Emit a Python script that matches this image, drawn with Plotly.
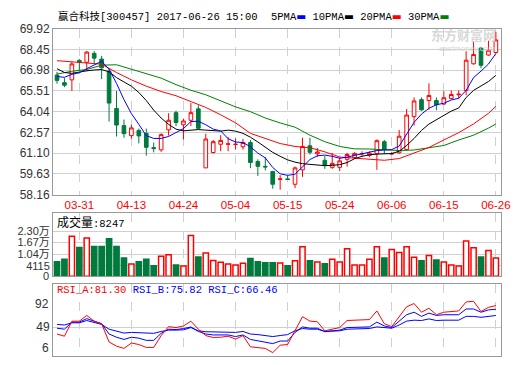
import plotly.graph_objects as go

# ---------------- data ----------------
dates = ["03-28","03-29","03-30","03-31","04-05","04-06","04-07","04-10","04-11","04-12",
         "04-13","04-14","04-17","04-18","04-19","04-20","04-21","04-24","04-25","04-26",
         "04-27","04-28","05-02","05-03","05-04","05-05","05-08","05-09","05-10","05-11",
         "05-12","05-15","05-16","05-17","05-18","05-19","05-22","05-23","05-24","05-25",
         "05-26","05-31","06-01","06-02","06-05","06-06","06-07","06-08","06-09","06-12",
         "06-13","06-14","06-15","06-16","06-19","06-20","06-21","06-22","06-23","06-26"]

open_ = [66.64,66.10,66.30,67.68,67.55,68.18,67.77,66.91,64.27,63.05,
         62.34,62.71,62.50,61.49,61.33,62.75,63.97,63.11,63.43,64.24,
         60.05,61.14,61.73,61.73,61.71,61.55,61.85,60.50,60.16,59.80,
         59.23,59.27,58.89,59.91,61.62,61.05,60.59,60.09,60.09,60.66,
         60.78,61.03,60.94,61.05,61.91,61.03,61.12,61.35,63.69,64.89,
         64.83,64.83,64.58,64.98,65.24,65.55,67.44,68.56,68.06,68.24]
high = [66.87,66.42,67.59,67.77,68.34,68.34,68.00,67.09,65.51,63.48,
        63.11,62.84,62.84,61.85,62.50,63.93,64.11,63.54,64.65,64.49,
        62.48,62.03,62.37,62.25,62.14,62.10,62.03,60.66,60.82,59.80,
        59.53,59.50,60.14,62.19,62.19,61.46,60.89,61.12,60.78,61.12,
        61.15,61.23,61.23,62.07,62.03,61.19,62.75,64.23,65.05,65.05,
        66.05,65.05,65.49,65.55,65.55,68.33,69.01,68.63,69.08,69.72]
low = [66.03,65.78,65.51,66.98,66.91,67.43,66.35,63.34,62.28,62.19,
       62.12,61.78,60.92,61.15,61.19,62.34,63.02,62.07,63.02,62.80,
       60.05,61.07,61.23,61.23,61.35,61.35,60.03,59.48,59.87,58.57,
       58.50,59.23,58.62,59.41,61.00,60.82,59.98,59.98,59.82,60.14,
       60.70,60.89,60.82,59.91,61.05,60.96,61.05,61.35,63.05,64.10,
       64.19,64.14,64.53,64.92,64.96,65.21,67.37,67.12,68.01,68.17]
close = [66.26,65.92,67.43,67.55,68.27,67.84,67.16,64.65,63.09,62.48,
         62.89,62.32,61.51,61.42,62.41,63.43,63.27,63.38,63.97,62.86,
         62.10,61.91,62.00,61.75,61.73,61.85,60.43,60.16,60.12,58.89,
         59.27,59.23,60.05,61.57,61.16,61.18,60.21,60.37,60.55,61.00,
         61.08,61.07,61.10,61.98,61.35,61.07,62.30,63.80,64.80,64.17,
         65.19,64.53,65.03,65.26,65.28,67.69,68.10,67.33,68.40,69.13]

ma5 = [66.53,66.48,66.69,66.80,67.09,67.37,67.62,67.05,66.05,64.90,
       63.90,63.14,62.34,62.14,62.14,62.28,62.57,62.84,63.34,63.36,
       63.11,62.80,62.68,62.12,61.89,61.85,61.55,61.10,60.76,60.08,
       59.63,59.52,59.60,60.10,60.64,60.91,60.96,60.87,60.73,60.82,
       60.93,61.09,61.19,61.28,61.32,61.35,61.60,62.48,63.28,63.87,
       64.28,64.53,64.64,64.87,64.99,65.55,66.46,66.92,67.42,68.17]
ma10 = [67.09,66.82,66.76,66.87,66.94,67.00,67.03,66.87,66.46,66.15,
        65.85,65.40,64.83,64.15,63.59,63.14,62.80,62.68,62.75,62.77,
        62.73,62.68,62.66,62.73,62.66,62.50,62.23,61.89,61.49,61.15,
        60.87,60.62,60.46,60.35,60.30,60.25,60.21,60.23,60.28,60.43,
        60.70,60.87,60.98,61.03,61.05,61.07,61.23,61.64,62.14,62.71,
        63.16,63.46,63.73,64.08,64.30,65.05,65.55,65.85,66.18,66.62]
long_idx = [0,2,4,6,8,10,12,14,16,18,20,22,24,26,28,30,32,34,36,38,
            40,42,44,46,48,50,52,54,56,58,59]
ma20 = [67.66,67.59,67.50,67.41,66.82,66.30,65.85,65.47,65.17,64.76,
        64.34,63.82,63.25,62.50,62.15,61.78,61.57,61.48,61.19,60.82,
        60.74,60.66,60.59,60.71,61.12,61.50,62.03,62.55,63.17,63.92,64.42]
ma30 = [66.71,66.91,67.03,67.34,67.37,67.07,66.76,66.42,65.96,65.56,
        65.24,64.79,64.38,64.04,63.59,63.24,62.94,62.37,61.91,61.57,
        61.40,61.39,61.35,61.28,61.32,61.50,61.64,62.03,62.37,62.87,63.17]

volume = [6213,7630,20220,14080,19170,14610,14610,18800,14610,8310,
          5010,6210,7630,4115,9200,10040,4480,3960,20540,8840,
          11000,7000,6000,5000,4500,5500,8000,6210,5690,5690,
          5530,4115,6740,14450,6740,6060,5160,7630,6060,13400,
          4480,4480,7630,14450,8310,12880,11300,14450,8680,6740,
          9730,7260,6060,4480,3960,17600,13930,8840,12350,8247]

rsi_a = [38.9,35.6,58.0,58.0,66.6,58.0,54.2,27.0,20.8,17.4,
         25.5,23.2,18.9,18.9,36.5,49.9,48.5,50.9,58.0,46.1,
         36.5,33.7,34.1,35.6,31.3,36.5,19.8,18.4,17.4,11.2,
         22.2,23.2,43.7,64.7,58.1,57.1,43.7,46.1,48.5,59.0,
         59.5,60.4,60.4,73.3,54.2,49.9,65.2,79.5,84.3,71.4,
         77.2,67.6,71.4,72.4,73.3,86.7,87.7,72.4,78.6,81.30]
rsi_b = [47.5,46.1,56.6,56.6,61.8,58.0,54.2,38.9,34.1,30.8,
         34.1,32.7,29.4,29.4,39.9,46.1,45.6,47.0,49.4,42.7,
         38.9,37.5,37.5,37.5,35.1,37.5,30.8,28.4,27.0,24.6,
         28.4,28.4,41.3,49.5,47.5,47.5,42.3,43.7,44.7,48.5,
         48.5,49.5,49.5,56.6,50.9,48.5,58.1,67.6,71.4,65.2,
         70.0,66.6,67.6,67.6,67.6,76.2,76.2,71.4,74.8,75.82]
rsi_c = [53.2,52.3,55.6,55.6,59.0,56.6,53.2,46.1,42.7,40.3,
         41.3,40.8,39.9,39.9,42.7,44.7,44.7,45.1,48.5,43.7,
         42.3,42.3,42.3,42.3,41.3,42.7,38.9,38.0,36.6,35.1,
         36.6,38.0,43.7,47.1,46.1,46.1,42.8,42.8,43.7,46.1,
         46.1,47.1,47.1,49.5,48.5,47.5,52.3,58.1,59.5,59.0,
         61.4,59.0,59.5,59.5,59.5,65.2,65.2,63.8,65.2,66.46]

x_ticks = ["03-31","04-13","04-24","05-04","05-15","05-24","06-06","06-15","06-26"]
price_ticks = [58.16,59.63,61.10,62.57,64.04,65.51,66.98,68.45,69.92]
vol_tickvals = [4115,10400,16700,23000]
vol_ticktext = ["4115","1.04万","1.67万","2.30万"]

# ---------------- style ----------------
RED = "#ff0000"
GREEN = "#007a3d"
GRID = "#d0d0d0"
FRAME = "#999999"
W, H = 520, 365
VOL_FLOOR = -1656          # bottom edge of the volume panel (bars rise from the panel floor)
VOL_TOP = 32968            # top edge of the volume panel (header band)

def py(px):  # pixel row -> paper y
    return (H - px) / H

fig = go.Figure()

fig.add_trace(go.Candlestick(
    x=dates, open=open_, high=high, low=low, close=close,
    increasing=dict(line=dict(color=RED, width=1), fillcolor="white"),
    decreasing=dict(line=dict(color=GREEN, width=1), fillcolor=GREEN),
    whiskerwidth=0, xaxis="x", yaxis="y", showlegend=False, hoverinfo="skip"))

fig.add_trace(go.Scatter(x=[dates[i] for i in long_idx], y=ma30, mode="lines",
                         line=dict(color="#008000", width=1), xaxis="x", yaxis="y", showlegend=False))
fig.add_trace(go.Scatter(x=[dates[i] for i in long_idx], y=ma20, mode="lines",
                         line=dict(color="#ff0000", width=1), xaxis="x", yaxis="y", showlegend=False))
fig.add_trace(go.Scatter(x=dates, y=ma10, mode="lines",
                         line=dict(color="#000000", width=1), xaxis="x", yaxis="y", showlegend=False))
fig.add_trace(go.Scatter(x=dates, y=ma5, mode="lines",
                         line=dict(color="#0000ff", width=1), xaxis="x", yaxis="y", showlegend=False))

up = [c >= o for o, c in zip(open_, close)]
fig.add_trace(go.Bar(
    x=dates, y=[v - VOL_FLOOR for v in volume], base=VOL_FLOOR,
    xaxis="x2", yaxis="y2", showlegend=False, width=0.7, hoverinfo="skip",
    marker=dict(color=["white" if u else GREEN for u in up],
                line=dict(color=[RED if u else GREEN for u in up], width=1.5))))

fig.add_trace(go.Scatter(x=dates, y=rsi_c, mode="lines", line=dict(color="#0000ff", width=1),
                         xaxis="x3", yaxis="y3", showlegend=False))
fig.add_trace(go.Scatter(x=dates, y=rsi_b, mode="lines", line=dict(color="#0000ff", width=1),
                         xaxis="x3", yaxis="y3", showlegend=False))
fig.add_trace(go.Scatter(x=dates, y=rsi_a, mode="lines", line=dict(color="#ff0000", width=1),
                         xaxis="x3", yaxis="y3", showlegend=False))

xdom = [54 / W, 510 / W]
xcommon = dict(type="category", categoryorder="array", categoryarray=dates,
               range=[-0.53, 59.71], domain=xdom, showgrid=True, gridcolor=GRID,
               griddash="dash", gridwidth=1, showline=True, mirror=True, linecolor=FRAME,
               linewidth=1, tickvals=x_ticks, ticktext=x_ticks, ticks="", zeroline=False,
               fixedrange=True)
tickf = dict(family="Liberation Sans, Noto Sans CJK SC", size=12, color="#333333")
ycommon = dict(showgrid=True, gridcolor=GRID, gridwidth=1, showline=True, mirror=True,
               linecolor=FRAME, linewidth=1, ticks="", zeroline=False, tickfont=tickf)

# white header bands (panel titles) that hide the dashed grid, as in the reference
header_bands = [(214.5, 232.5), (288.5, 300)]
shapes = [dict(type="rect", xref="paper", yref="paper", x0=55 / W, x1=509 / W,
               y0=py(b), y1=py(t), fillcolor="white", line=dict(width=0), layer="between")
          for t, b in header_bands]

fig.update_layout(
    width=W, height=H, autosize=False, margin=dict(l=0, r=0, t=0, b=0),
    paper_bgcolor="white", plot_bgcolor="white",
    font=dict(family="Liberation Sans, Noto Sans CJK SC", size=12, color="#333333"),
    xaxis=dict(xcommon, anchor="y", rangeslider=dict(visible=False),
               tickfont=dict(family="Liberation Sans", size=11.5, color=RED)),
    xaxis2=dict(xcommon, anchor="y2", matches="x", showticklabels=False),
    xaxis3=dict(xcommon, anchor="y3", matches="x", showticklabels=False),
    yaxis=dict(ycommon, domain=[py(195), py(22.7)], range=[58.16, 69.92],
               tickvals=price_ticks, ticktext=["%.2f" % v for v in price_ticks]),
    yaxis2=dict(ycommon, domain=[py(280), py(214)], range=[VOL_FLOOR, VOL_TOP],
                tickvals=vol_tickvals, ticktext=vol_ticktext,
                tickfont=dict(tickf, size=11)),
    yaxis3=dict(ycommon, domain=[py(363), py(288)], range=[6, 113.5],
                tickvals=[49], ticktext=["49"]),
    shapes=shapes,
)

mono = "Liberation Mono, Noto Sans CJK SC"
dash = "<span style='font-family:DejaVu Sans;color:%s'>▬</span>"
ann = [
    dict(text="赢合科技[300457] 2017-06-26 15:00", x=57 / W, y=py(10), xref="paper", yref="paper",
         xanchor="left", yanchor="middle", showarrow=False,
         font=dict(family=mono, size=10.5, color="#000000")),
    dict(text="5PMA" + dash % "#0000ff" + " 10PMA" + dash % "#000000" +
              " 20PMA" + dash % "#ff0000" + " 30PMA" + dash % "#008000",
         x=274 / W, y=py(10), xref="paper", yref="paper", xanchor="left", yanchor="middle",
         showarrow=False, font=dict(family=mono, size=10.5, color="#000000")),
    dict(text="<span style='font-family:Noto Sans CJK SC;font-size:12px'>成交量</span>:8247",
         x=56 / W, y=py(223), xref="paper", yref="paper", xanchor="left", yanchor="middle",
         showarrow=False, font=dict(family=mono, size=10.5, color="#000000")),
    dict(text="<span style='color:#ff0000'>RSI_A:81.30</span> <span style='color:#0000ff'>RSI_B:75.82</span> "
              "<span style='color:#0000ff'>RSI_C:66.46</span>",
         x=56 / W, y=py(294), xref="paper", yref="paper", xanchor="left", yanchor="middle",
         showarrow=False, font=dict(family=mono, size=10.5, color="#000000")),
    dict(text="0", x=52 / W, xref="paper", y=py(280), yref="paper", xanchor="right",
         yanchor="middle", showarrow=False, font=dict(tickf, size=11)),
    dict(text="92", x=52 / W, xref="paper", y=92, yref="y3", yshift=-6, xanchor="right",
         yanchor="middle", showarrow=False, font=tickf),
    dict(text="6", x=52 / W, xref="paper", y=6, yref="y3", yshift=8, xanchor="right",
         yanchor="middle", showarrow=False, font=tickf),
    dict(text="<b>东方财富网</b>", x=507 / W, y=py(29), xref="paper", yref="paper", xanchor="right",
         yanchor="middle", showarrow=False,
         font=dict(family="Noto Sans CJK SC", size=13, color="#d8d8d8")),
    dict(text="eastmoney.com", x=506 / W, y=py(43), xref="paper", yref="paper", xanchor="right",
         yanchor="middle", showarrow=False,
         font=dict(family="Liberation Sans", size=8, color="#d8d8d8")),
]
fig.update_layout(annotations=ann)

fig.write_html("out.html",
               config={"responsive": False, "displayModeBar": False, "staticPlot": True},
               post_script="document.body.style.margin='0';document.body.style.overflow='hidden';")
